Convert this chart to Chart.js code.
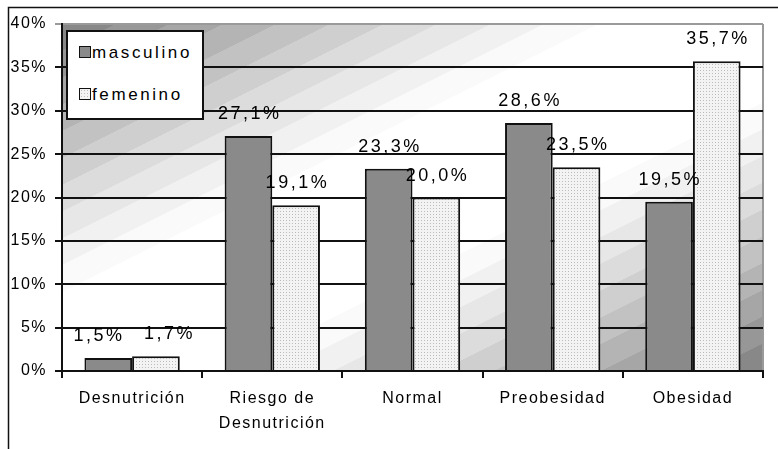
<!DOCTYPE html>
<html>
<head>
<meta charset="utf-8">
<script src="https://cdn.jsdelivr.net/npm/chart.js@4.4.1/dist/chart.umd.min.js"></script>
<style>
  body { margin: 0; background: #fff; }
  #wrap { position: relative; width: 778px; height: 449px; }
  #legend {
    position: absolute; left: 66px; top: 30px; width: 134px; height: 86px;
    background: #fff; border: 2px solid #111; font-family: "Liberation Sans", Arial, sans-serif;
    font-size: 17px; letter-spacing: 2.6px; color: #000;
  }
  .item { position: absolute; left: 11px; height: 16px; line-height: 16px; white-space: nowrap; }
  .sw { display: inline-block; width: 10px; height: 10px; border: 1.5px solid #111; vertical-align: 0px; margin-right: 1px; }
</style>
</head>
<body>
<div id="wrap">
  <canvas id="chart"></canvas>
  <div id="legend">
    <div class="item" style="top:13px"><span class="sw" style="background:#8a8a8a"></span>masculino</div>
    <div class="item" style="top:55px"><span class="sw" id="swFem" style="background:#e4e4e4"></span>femenino</div>
  </div>
</div>
<script>
// Daten aus der Grafik
const categories = [["Desnutrición"], ["Riesgo de", "Desnutrición"], ["Normal"], ["Preobesidad"], ["Obesidad"]];
const masculino = [1.5, 27.1, 23.3, 28.6, 19.5];
const femenino = [1.7, 19.1, 20.0, 23.5, 35.7];
const yMax = 40;
const yStep = 5;

const FONT = "'Liberation Sans', Arial, sans-serif";

// Gepunktetes Muster für "femenino"
function dotCanvas() {
    const c = document.createElement("canvas");
    c.width = 3; c.height = 3;
    const x = c.getContext("2d");
    x.fillStyle = "#f3f3f3";
    x.fillRect(0, 0, 3, 3);
    x.fillStyle = "#bcbcbc";
    x.fillRect(1, 1, 1, 1);
    return c;
}
const dots = dotCanvas();

function fmt(v) {
    return v.toFixed(1).replace(".", ",") + "%";
}

// Grauwert der diagonalen Streifen (dunkel in den Ecken, weiß auf der Diagonale)
function shade(t) {
    const s = Math.min(t, 1 - t);
    const k = Math.max(0, 1 - s / 0.4);
    return Math.round(255 - 127 * Math.pow(k, 1.3));
}

// Hintergrund mit diagonalen Streifen
const bgPlugin = {
    id: "bg",
    beforeDraw(chart) {
        const ctx = chart.ctx;
        const a = chart.chartArea;
        ctx.save();
        const w = a.right - a.left, h = a.bottom - a.top;
        const nx = 0.447, ny = 0.894;
        const len = nx * w + ny * h;
        const g = ctx.createLinearGradient(a.left, a.top, a.left + nx * len, a.top + ny * len);
        const n = 26;
        for (let i = 0; i < n; i++) {
            const v = shade((i + 0.5) / n);
            const col = "rgb(" + v + "," + v + "," + v + ")";
            g.addColorStop(i / n, col);
            g.addColorStop((i + 1) / n - 0.0001, col);
        }
        ctx.fillStyle = g;
        ctx.fillRect(a.left, a.top, w, h);
        ctx.strokeStyle = "#9a9a9a";
        ctx.lineWidth = 2;
        ctx.beginPath();
        ctx.moveTo(a.right, a.top);
        ctx.lineTo(a.right, a.bottom);
        ctx.stroke();
        // äußerer Rahmen
        ctx.strokeStyle = "#111";
        ctx.lineWidth = 1.5;
        ctx.strokeRect(8.5, 7.5, 900, 600);
        ctx.restore();
        ctx.letterSpacing = "1.5px";
    }
};

// Beschriftungen über den Balken
const labelPlugin = {
    id: "labels",
    afterDatasetsDraw(chart) {
        const ctx = chart.ctx;
        ctx.save();
        ctx.font = "18px " + FONT;
        ctx.letterSpacing = "2.5px";
        ctx.fillStyle = "#000";
        ctx.textAlign = "left";
        ctx.textBaseline = "alphabetic";
        const m = chart.getDatasetMeta(0).data;
        const f = chart.getDatasetMeta(1).data;
        m.forEach((barM, j) => {
            const barF = f[j];
            const tm = fmt(masculino[j]), tf = fmt(femenino[j]);
            const wm = ctx.measureText(tm).width - 2.5, wf = ctx.measureText(tf).width - 2.5;
            let xm = barM.x - wm / 2, xf = barF.x - wf / 2;
            // Überlappung auf gleicher Höhe vermeiden
            if (Math.abs(barM.y - barF.y) < 20 && xm + wm > xf - 4) {
                const mid = (barM.x + barF.x) / 2;
                xm = mid - 10 - wm;
                xf = mid + 12;
            }
            ctx.fillText(tm, xm, barM.y - 17);
            ctx.fillText(tf, xf, barF.y - 17);
        });
        ctx.restore();
    }
};

const canvas = document.getElementById("chart");
const chart = new Chart(canvas, {
    type: "bar",
    data: {
        labels: categories,
        datasets: [{
            label: "masculino",
            data: masculino,
            backgroundColor: "#8a8a8a",
            borderColor: "#111",
            borderWidth: 2,
        }, {
            label: "femenino",
            data: femenino,
            backgroundColor: canvas.getContext("2d").createPattern(dots, "repeat"),
            borderColor: "#111",
            borderWidth: 2,
        }],
    },
    options: {
        responsive: true,
        maintainAspectRatio: false,
        animation: false,
        layout: { padding: { top: 24, right: 15, left: 0, bottom: 0 } },
        plugins: {
            legend: { display: false },
            tooltip: { enabled: false },
        },
        datasets: {
            bar: { categoryPercentage: 0.68, barPercentage: 1.0 }
        },
        scales: {
            x: {
                afterFit: (s) => { s.height = 78; },
                grid: { drawOnChartArea: false, drawTicks: true, tickLength: 7, color: "#111", lineWidth: 2 },
                border: { color: "#111", width: 2 },
                ticks: {
                    color: "#000",
                    font: { family: FONT, size: 16, lineHeight: 1.56 },
                    padding: 8,
                    maxRotation: 0,
                    autoSkip: false,
                },
            },
            y: {
                min: 0,
                max: yMax,
                afterFit: (s) => { s.width = 62; },
                grid: {
                    color: (c) => (c.tick && c.tick.value === yMax ? "#9a9a9a" : "#111"),
                    lineWidth: 2,
                    tickLength: 7,
                },
                border: { color: "#111", width: 2 },
                ticks: {
                    stepSize: yStep,
                    color: "#000",
                    padding: 8,
                    font: { family: FONT, size: 16 },
                    callback: (v) => v + "%",
                },
            },
        },
    },
    plugins: [bgPlugin, labelPlugin],
});

// Legende: gleiches Muster wie die Balken
document.getElementById("swFem").style.background = "url(" + dots.toDataURL() + ")";
</script>
</body>
</html>
